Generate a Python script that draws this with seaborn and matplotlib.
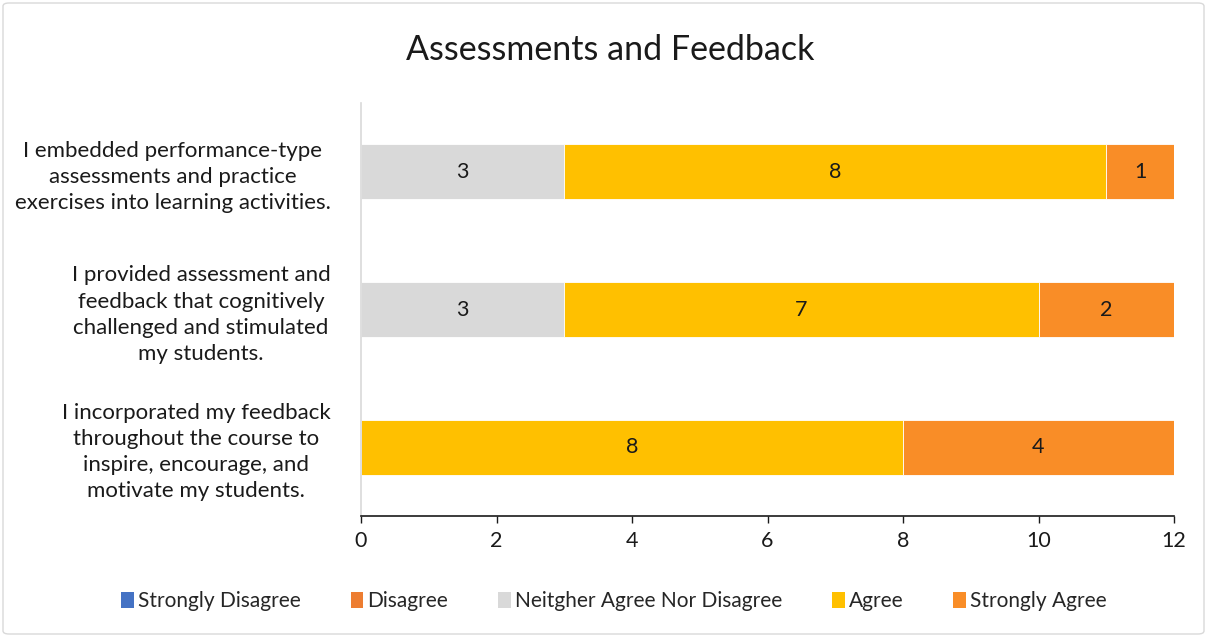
import matplotlib
matplotlib.use("Agg")
import matplotlib.pyplot as plt
import seaborn as sns
import pandas as pd
import numpy as np
from matplotlib.patches import FancyBboxPatch, Patch

categories = [
    "I embedded performance-type\nassessments and practice\nexercises into learning activities.",
    "I provided assessment and\nfeedback that cognitively\nchallenged and stimulated\nmy students.",
    "I incorporated my feedback\nthroughout the course to\ninspire, encourage, and\nmotivate my students.",
]
series_names = ["Strongly Disagree", "Disagree", "Neitgher Agree Nor Disagree", "Agree", "Strongly Agree"]
strongly_disagree = [0, 0, 0]
disagree = [0, 0, 0]
neutral = [3, 3, 0]
agree = [8, 7, 8]
strongly_agree = [1, 2, 4]
colors = ["#4472C4", "#ED7D31", "#D9D9D9", "#FFC000", "#F98D27"]
x_ticks = [0, 2, 4, 6, 8, 10, 12]

sns.set_theme(style="white")
plt.rcParams['font.family'] = ['Lato', 'DejaVu Sans']

fig = plt.figure(figsize=(12.07, 6.37), dpi=100)
ax = fig.add_axes([361/1207, 1-516/637, (1174-361)/1207, (516-103)/637])

values = [strongly_disagree, disagree, neutral, agree, strongly_agree]
left = np.zeros(len(categories))
for name, vals, col in zip(series_names, values, colors):
    df = pd.DataFrame({"cat": categories, "val": vals})
    sns.barplot(data=df, x="val", y="cat", orient="h", color=col, left=left,
                width=0.4, ax=ax, edgecolor="white", linewidth=0.6, saturation=1)
    for i, v in enumerate(vals):
        if v > 0:
            ax.text(left[i] + v / 2, i, str(v), ha="center", va="center",
                    fontsize=15.5, color="#1a1a1a")
    left = left + np.array(vals)

ax.set_xlim(0, 12)
ax.set_ylim(2.5, -0.5)
ax.set_xticks(x_ticks)
ax.set_xticklabels([str(t) for t in x_ticks], fontsize=15.5, color="#1a1a1a")
ax.tick_params(axis="x", direction="out", length=5, width=1, color="#1a1a1a", pad=6, bottom=True)
ax.tick_params(axis="y", length=0, pad=22)
for lab in ax.get_yticklabels():
    lab.set_fontsize(16)
    lab.set_color("#1a1a1a")
    lab.set_horizontalalignment("right")
    lab.set_multialignment("center")
    lab.set_linespacing(1.38)
ax.set_xlabel("")
ax.set_ylabel("")
for s in ["top", "right"]:
    ax.spines[s].set_visible(False)
ax.spines["left"].set_color("#D9D9D9")
ax.spines["left"].set_linewidth(1.2)
ax.spines["bottom"].set_color("#1a1a1a")
ax.spines["bottom"].set_linewidth(1.2)

fig.text(610/1207, 1-50/637, "Assessments and Feedback", ha="center", va="center",
         fontsize=24.5, color="#1a1a1a")

handles = [Patch(facecolor=c, edgecolor="none") for c in colors]
fig.legend(handles, series_names, loc="center", bbox_to_anchor=(614/1207, 1-601/637),
           ncol=5, frameon=False, fontsize=15, handlelength=0.6, handleheight=0.8,
           handletextpad=0.2, columnspacing=2.4)

border = FancyBboxPatch((3/1207, 3/637), 1-6/1207, 1-6/637, boxstyle="round,pad=0,rounding_size=0.005",
                        transform=fig.transFigure, facecolor="none", edgecolor="#D9D9D9", linewidth=1)
fig.patches.append(border)

fig.savefig("out.png", dpi=100)
